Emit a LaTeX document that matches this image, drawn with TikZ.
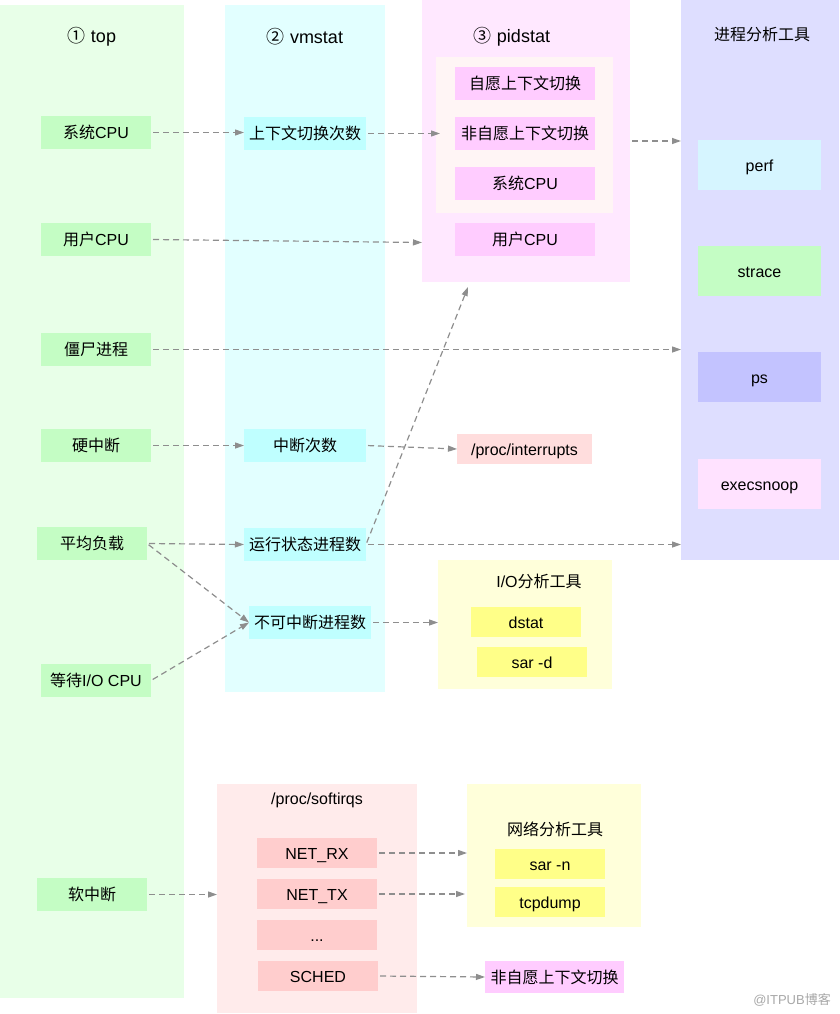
\documentclass[tikz,border=0pt]{standalone}
\usepackage{fontspec}
\setmainfont{Liberation Sans}
\newfontfamily\cjk{Noto Sans CJK SC}
\usetikzlibrary{arrows.meta,calc}
\definecolor{topcol}{HTML}{E8FFE8}
\definecolor{topnode}{HTML}{C4FDC4}
\definecolor{vmcol}{HTML}{E2FFFF}
\definecolor{vmnode}{HTML}{BFFFFF}
\definecolor{pidcol}{HTML}{FFE8FF}
\definecolor{pidinner}{HTML}{FFF5F5}
\definecolor{pidnode}{HTML}{FFCCFF}
\definecolor{proccol}{HTML}{DEDEFF}
\definecolor{perfnode}{HTML}{D6F5FF}
\definecolor{psnode}{HTML}{C3C3FF}
\definecolor{execnode}{HTML}{FFE2FF}
\definecolor{irqnode}{HTML}{FFDDDD}
\definecolor{iocol}{HTML}{FFFFDA}
\definecolor{ionode}{HTML}{FFFF88}
\definecolor{softcol}{HTML}{FFEBEB}
\definecolor{softnode}{HTML}{FFCDCD}
\definecolor{arrowgray}{HTML}{8E8E8E}
\definecolor{wmgray}{HTML}{A8A8A8}
\tikzset{
  region/.style={draw=none,inner sep=0pt,outer sep=0pt,rectangle},
  box/.style={draw=none,inner sep=0pt,outer sep=0pt,rectangle,
    text height=13pt,text depth=1pt,
    font=\fontsize{16}{19}\selectfont,text=black},
  ttl/.style={inner sep=0pt,font=\fontsize{18}{21}\selectfont},
  sttl/.style={inner sep=0pt,font=\fontsize{16}{19}\selectfont},
  dasharrow/.style={draw=arrowgray,line width=1.2pt,dash pattern=on 6pt off 4pt,
    -{Triangle[length=9pt,width=6pt]},shorten <=2pt},
}
\newcommand{\rg}[6]{\node[region,fill=#6,minimum width=#3pt-#1pt,minimum height=#4pt-#2pt] (#5) at ({(#1+#3)/2},{(#2+#4)/2}) {};}
\begin{document}
\begin{tikzpicture}[x=1pt,y=-1pt]
\useasboundingbox (0,0) rectangle (839,1014);
\fill[white] (0,0) rectangle (839,1014);
% regions
\rg{0}{5}{184}{998}{colTop}{topcol}
\rg{225}{5}{385}{692}{colVm}{vmcol}
\rg{422}{0}{630}{282}{colPid}{pidcol}
\rg{436}{57}{613}{213}{pidInner}{pidinner}
\rg{681}{0}{839}{560}{colProc}{proccol}
\rg{438}{560}{612}{689}{ioBox}{iocol}
\rg{217}{784}{417}{1013}{softBox}{softcol}
\rg{467}{784}{641}{927}{netBox}{iocol}
% titles
\node[ttl] (tTop) at (92,37) {{\cjk ①} top};
\node[ttl] (tVm) at (305,37) {{\cjk ②} vmstat};
\node[ttl] (tPid) at (512,37) {{\cjk ③} pidstat};
\node[sttl] (tProc) at (762,34) {\cjk 进程分析工具};
\node[sttl] (tIo) at (539,581) {I/O{\cjk 分析工具}};
\node[sttl] (tSoft) at (317,800) {/proc/softirqs};
\node[sttl] (tNet) at (555,829) {\cjk 网络分析工具};
% top column nodes
\node[box,fill=topnode,minimum width=110pt,minimum height=33pt] (sysCPU) at (96,132.5) {{\cjk 系统}CPU};
\node[box,fill=topnode,minimum width=110pt,minimum height=33pt] (usrCPU) at (96,239.5) {{\cjk 用户}CPU};
\node[box,fill=topnode,minimum width=110pt,minimum height=33pt] (zombie) at (96,349.5) {\cjk 僵尸进程};
\node[box,fill=topnode,minimum width=110pt,minimum height=33pt] (hardirq) at (96,445.5) {\cjk 硬中断};
\node[box,fill=topnode,minimum width=110pt,minimum height=33pt] (loadavg) at (92,543.5) {\cjk 平均负载};
\node[box,fill=topnode,minimum width=110pt,minimum height=33pt] (iowait) at (96,680.5) {{\cjk 等待}I/O CPU};
\node[box,fill=topnode,minimum width=110pt,minimum height=33pt] (softirq) at (92,894.5) {\cjk 软中断};
% vmstat nodes
\node[box,fill=vmnode,minimum width=122pt,minimum height=33pt] (ctxsw) at (305,133.5) {\cjk 上下文切换次数};
\node[box,fill=vmnode,minimum width=122pt,minimum height=33pt] (irqcnt) at (305,445.5) {\cjk 中断次数};
\node[box,fill=vmnode,minimum width=122pt,minimum height=33pt] (runq) at (305,544.5) {\cjk 运行状态进程数};
\node[box,fill=vmnode,minimum width=122pt,minimum height=33pt] (dstate) at (310,622.5) {\cjk 不可中断进程数};
% pidstat nodes
\node[box,fill=pidnode,minimum width=140pt,minimum height=33pt] (vol) at (525,83.5) {\cjk 自愿上下文切换};
\node[box,fill=pidnode,minimum width=140pt,minimum height=33pt] (invol) at (525,133.5) {\cjk 非自愿上下文切换};
\node[box,fill=pidnode,minimum width=140pt,minimum height=33pt] (pidsys) at (525,183.5) {{\cjk 系统}CPU};
\node[box,fill=pidnode,minimum width=140pt,minimum height=33pt] (pidusr) at (525,239.5) {{\cjk 用户}CPU};
% process tools
\node[box,fill=perfnode,minimum width=123pt,minimum height=50pt] (perf) at (759.5,165) {perf};
\node[box,fill=topnode,minimum width=123pt,minimum height=50pt] (strace) at (759.5,271) {strace};
\node[box,fill=psnode,minimum width=123pt,minimum height=50pt] (ps) at (759.5,377) {ps};
\node[box,fill=execnode,minimum width=123pt,minimum height=50pt] (execsnoop) at (759.5,484) {execsnoop};
% other
\node[box,fill=irqnode,minimum width=135pt,minimum height=30pt] (interrupts) at (524.5,449) {/proc/interrupts};
\node[box,fill=ionode,minimum width=110pt,minimum height=30pt] (dstat) at (526,622) {dstat};
\node[box,fill=ionode,minimum width=110pt,minimum height=30pt] (sard) at (532,662) {sar -d};
\node[box,fill=softnode,minimum width=120pt,minimum height=30pt] (netrx) at (317,853) {NET\_RX};
\node[box,fill=softnode,minimum width=120pt,minimum height=30pt] (nettx) at (317,894) {NET\_TX};
\node[box,fill=softnode,minimum width=120pt,minimum height=30pt] (dots) at (317,935) {...};
\node[box,fill=softnode,minimum width=120pt,minimum height=30pt] (sched) at (318,976) {SCHED};
\node[box,fill=ionode,minimum width=110pt,minimum height=30pt] (sarn) at (550,864) {sar -n};
\node[box,fill=ionode,minimum width=110pt,minimum height=30pt] (tcpdump) at (550,902) {tcpdump};
\node[box,fill=pidnode,minimum width=139pt,minimum height=32pt] (invol2) at (554.5,977) {\cjk 非自愿上下文切换};
% watermark
\node[inner sep=0pt,text=wmgray,font=\fontsize{13}{15}\selectfont] (wm) at (792,1000) {@ITPUB{\cjk 博客}};
% arrows
\draw[dasharrow] (sysCPU.east) -- (sysCPU.east -| ctxsw.west);
\draw[dasharrow] (ctxsw.east) -- ([xshift=4pt]pidInner.west |- ctxsw.east);
\draw[dasharrow] (colPid.east) -- (colProc.west |- colPid.east);
\draw[dasharrow] (usrCPU.east) -- ([yshift=-3pt]colPid.west |- usrCPU.east);
\draw[dasharrow] (zombie.east) -- (colProc.west |- zombie.east);
\draw[dasharrow] (hardirq.east) -- (irqcnt.west);
\draw[dasharrow] (irqcnt.east) -- (interrupts.west);
\draw[dasharrow] (loadavg.east) -- (runq.west);
\draw[dasharrow] (runq.east) -- ([xshift=-58pt,yshift=-5pt]colPid.south);
\draw[dasharrow] (runq.east) -- (colProc.west |- runq.east);
\draw[dasharrow] (loadavg.east) -- (dstate.west);
\draw[dasharrow] (iowait.east) -- (dstate.west);
\draw[dasharrow] (dstate.east) -- (ioBox.west |- dstate.east);
\draw[dasharrow] (softirq.east) -- (softBox.west |- softirq.east);
\draw[dasharrow] (netrx.east) -- (netBox.west |- netrx.east);
\draw[dasharrow] (nettx.east) -- ([xshift=-2pt]netBox.west |- nettx.east);
\draw[dasharrow] (sched.east) -- (invol2.west);
\end{tikzpicture}
\end{document}
